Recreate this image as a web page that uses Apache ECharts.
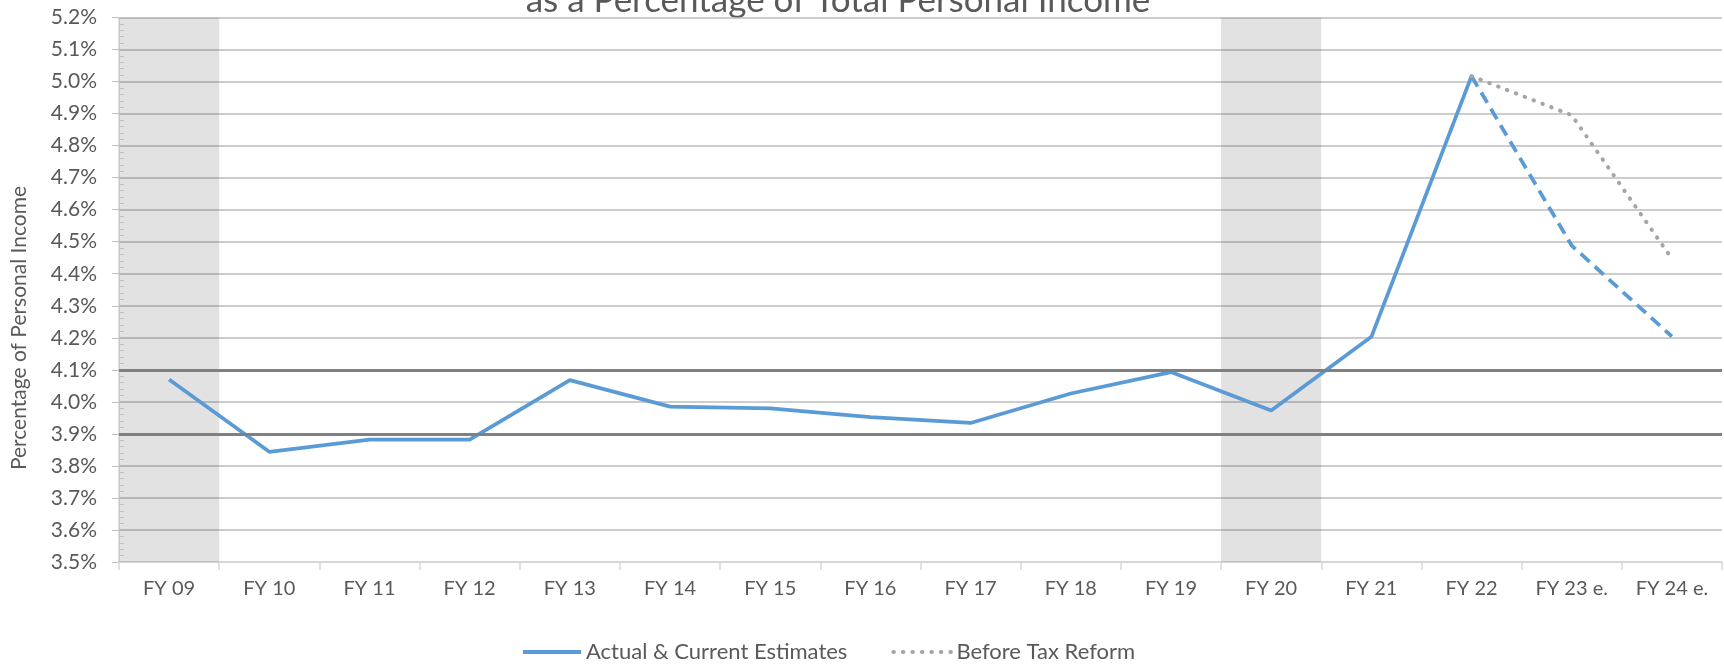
<!DOCTYPE html>
<html>
<head>
<meta charset="utf-8">
<script src="https://cdn.jsdelivr.net/npm/echarts@6/dist/echarts.min.js"></script>
<style>
  html, body { margin: 0; padding: 0; background: #fff; }
  #chart { width: 1724px; height: 665px; }
</style>
</head>
<body>
<div id="chart"></div>
<script>
const categories = ['FY 09', 'FY 10', 'FY 11', 'FY 12', 'FY 13', 'FY 14', 'FY 15', 'FY 16',
  'FY 17', 'FY 18', 'FY 19', 'FY 20', 'FY 21', 'FY 22', 'FY 23 e.', 'FY 24 e.'];
const actual = [4.07, 3.844, 3.882, 3.882, 4.068, 3.985, 3.98, 3.952,
  3.934, 4.026, 4.093, 3.973, 4.203, 5.017, null, null];
const estimates = [null, null, null, null, null, null, null, null,
  null, null, null, null, null, 5.017, 4.488, 4.204];
const beforeTaxReform = [null, null, null, null, null, null, null, null,
  null, null, null, null, null, 5.017, 4.895, 4.447];
const shadedYears = ['FY 09', 'FY 20'];
const rangeLines = [4.1, 3.897];
const yMin = 3.5;
const yMax = 5.2;
const yStep = 0.1;

const muted = '#595959';
const font = 'Lato';

const chart = echarts.init(document.getElementById('chart'));

chart.setOption({
  animation: false,
  textStyle: { fontFamily: font },
  grid: { left: 119, right: 2, top: 17.5, bottom: 103 },
  graphic: [
    {
      type: 'text',
      x: 838,
      y: 1,
      style: {
        text: 'as a Percentage of Total Personal Income',
        font: '35px Lato',
        fill: muted,
        align: 'center',
        verticalAlign: 'middle',
      },
    },
    {
      type: 'text',
      x: 19,
      y: 328,
      rotation: Math.PI / 2,
      style: {
        text: 'Percentage of Personal Income',
        font: '21px Lato',
        fill: muted,
        align: 'center',
        verticalAlign: 'middle',
      },
    },
  ],
  legend: {
    data: ['Actual & Current Estimates', 'Before Tax Reform'],
    left: 521,
    top: 641,
    padding: 0,
    itemWidth: 58,
    itemHeight: 14,
    itemGap: 44,
    itemStyle: { opacity: 0 },
    lineStyle: { width: 4 },
    textStyle: { color: muted, fontSize: 22, fontFamily: font },
  },
  xAxis: {
    type: 'category',
    data: categories,
    boundaryGap: true,
    axisLine: { lineStyle: { color: '#d9d9d9', width: 1.5 } },
    axisTick: { show: true, length: 8, lineStyle: { color: '#d9d9d9', width: 1.5 } },
    axisLabel: { color: muted, fontSize: 20, margin: 17, fontFamily: font },
    splitLine: { show: false },
  },
  yAxis: [
    {
      type: 'value',
      min: yMin,
      max: yMax,
      interval: yStep,
      axisLine: { show: true, lineStyle: { color: '#d9d9d9', width: 1.5 } },
      axisTick: { show: true, length: 7, lineStyle: { color: '#bfbfbf' } },
      axisLabel: {
        color: muted,
        fontSize: 21,
        margin: 22,
        fontFamily: font,
        formatter: (v) => v.toFixed(1) + '%',
      },
      splitLine: { lineStyle: { color: '#bcbcbc', width: 1.5 } },
    },
    {
      type: 'value',
      min: yMin,
      max: yMax,
      interval: yStep,
      position: 'left',
      axisLine: { show: false },
      axisTick: { show: false, inside: true },
      axisLabel: { show: false },
      splitLine: { show: false },
      minorTick: { show: true, splitNumber: 5, length: 5, lineStyle: { color: '#d9d9d9' } },
    },
  ],
  series: [
    {
      name: 'shade',
      type: 'bar',
      barWidth: '100%',
      silent: true,
      z: 1,
      itemStyle: { color: 'rgba(0,0,0,0.115)' },
      data: categories.map((c) => (shadedYears.includes(c) ? yMax : null)),
      markLine: {
        silent: true,
        symbol: 'none',
        label: { show: false },
        lineStyle: { color: '#808080', width: 3, type: 'solid' },
        data: rangeLines.map((v) => ({ yAxis: v })),
      },
    },
    {
      name: 'Actual & Current Estimates',
      type: 'line',
      z: 3,
      symbol: 'none',
      lineStyle: { color: '#5b9bd5', width: 3.75 },
      itemStyle: { color: '#5b9bd5' },
      data: actual,
    },
    {
      name: 'Actual & Current Estimates',
      type: 'line',
      z: 3,
      symbol: 'none',
      lineStyle: { color: '#5b9bd5', width: 3.75, type: [12, 7] },
      itemStyle: { color: '#5b9bd5' },
      data: estimates,
    },
    {
      name: 'Before Tax Reform',
      type: 'line',
      z: 4,
      symbol: 'none',
      lineStyle: { color: '#a5a5a5', width: 4, type: [0.5, 9], cap: 'round' },
      itemStyle: { color: '#a5a5a5' },
      data: beforeTaxReform,
    },
  ],
});
</script>
</body>
</html>
